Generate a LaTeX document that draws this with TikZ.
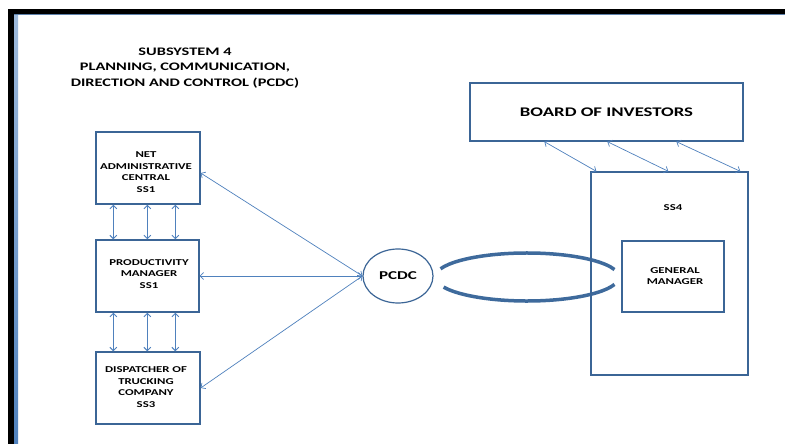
\documentclass[tikz,border=0pt]{standalone}
\usepackage{fontspec}
\setmainfont{Carlito}[FakeStretch=1.42]
\usetikzlibrary{arrows.meta,shapes.geometric,calc}
\definecolor{boxblue}{HTML}{3B6596}
\definecolor{arrblue}{HTML}{4F81BD}
\definecolor{loopblue}{HTML}{3E6A9C}
\tikzset{
  box/.style={draw=boxblue, line width=1.3pt, fill=white, align=center, inner sep=0pt,
              font=\bfseries\fontsize{9}{12}\selectfont},
  boxtxt/.style={font=\bfseries\fontsize{9}{11.7}\selectfont, align=center, inner sep=0pt},
  arr/.style={draw=arrblue, line width=0.9pt, {Straight Barb[length=3.5pt,width=7pt]}-{Straight Barb[length=3.5pt,width=7pt]}},
  thinarr/.style={draw=arrblue, line width=0.7pt, {Straight Barb[length=3.5pt,width=7pt]}-{Straight Barb[length=3.5pt,width=7pt]}},
  loopline/.style={draw=loopblue, line width=3.5pt},
}
\begin{document}
\begin{tikzpicture}[x=1pt,y=-1pt]
\useasboundingbox (0,0) rectangle (785,444);
% frame
\fill[black] (8,9) rectangle (790,450);
\fill[white] (14,14) rectangle (790,450);
\shade[top color=arrblue!55, bottom color=arrblue] (14,15) rectangle (18,450);
\fill[arrblue!70!gray] (14,14) rectangle (790,15.2);
% title
\node[align=center, inner sep=0pt, font=\bfseries\fontsize{11.5}{15.2}\selectfont] (title) at (185,68)
  {SUBSYSTEM 4\\PLANNING, COMMUNICATION,\\DIRECTION AND CONTROL (PCDC)};
% left boxes
\node[box, minimum width=104pt, minimum height=72pt] (net) at (148,168) {};
\node[boxtxt] (nettxt) at (146,172) {NET\\ADMINISTRATIVE\\CENTRAL\\SS1};
\node[box, minimum width=103pt, minimum height=72pt] (prod) at (147.5,276) {};
\node[boxtxt] (prodtxt) at (149,274) {PRODUCTIVITY\\MANAGER\\SS1};
\node[box, minimum width=104pt, minimum height=72pt] (disp) at (148,388) {};
\node[boxtxt] (disptxt) at (146,387) {DISPATCHER OF\\TRUCKING\\COMPANY\\SS3};
% PCDC
\node[ellipse, draw=boxblue, line width=1.2pt, minimum width=70pt, minimum height=54pt, inner sep=0pt,
      font=\bfseries\fontsize{12}{14}\selectfont] (pcdc) at (398,276) {PCDC};
% loop
\coordinate (loopc) at (527,277);
\draw[loopline] ($(loopc)+(-160:92 and 24)$) arc[start angle=-160, end angle=-18, x radius=92, y radius=24];
\draw[loopline] ($(loopc)+(18:92 and 24)$) arc[start angle=18, end angle=155, x radius=92, y radius=24];
% right boxes
\node[box, minimum width=273pt, minimum height=58pt, font=\bfseries\fontsize{13.2}{16}\selectfont] (board) at (606.5,112) {BOARD OF INVESTORS};
\node[draw=boxblue, line width=1.3pt, minimum width=157pt, minimum height=203pt, inner sep=0pt] (ss4) at (669.5,273.5) {};
\node[boxtxt] (ss4lbl) at (673,208) {SS4};
\node[box, minimum width=102pt, minimum height=71pt] (gm) at (673,276.5) {};
\node[boxtxt] (gmtxt) at (675,276) {GENERAL\\MANAGER};
% vertical arrows
\foreach \dx in {18,52,80}{
  \draw[arr] ([xshift=\dx pt]net.south west) -- ([xshift=\dx pt]prod.north west);
  \draw[arr] ([xshift=\dx pt]prod.south west) -- ([xshift=\dx pt]disp.north west);
}
% to PCDC
\draw[thinarr] ([yshift=-5pt]net.east) -- (pcdc.west);
\draw[thinarr] (prod.east) -- (pcdc.west);
\draw[thinarr] (disp.east) -- (pcdc.west);
% board arrows
\draw[thinarr] ([xshift=75pt]board.south west) -- ([xshift=6pt]ss4.north west);
\draw[thinarr] ([xshift=138pt]board.south west) -- ([xshift=78pt]ss4.north west);
\draw[thinarr] ([xshift=207pt]board.south west) -- ([xshift=150pt]ss4.north west);
\end{tikzpicture}
\end{document}
